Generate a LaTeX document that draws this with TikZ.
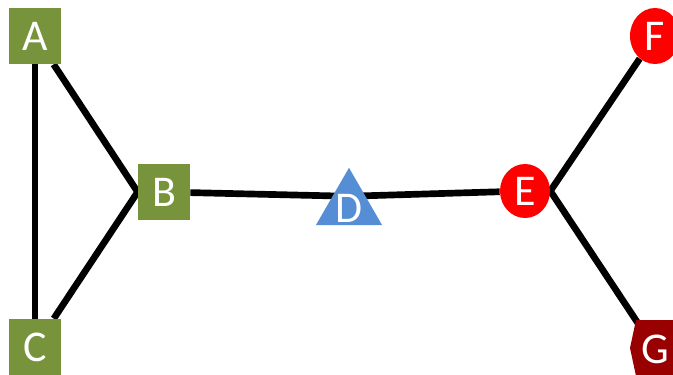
\documentclass[tikz,border=0pt]{standalone}
\usepackage{fontspec}
\setmainfont{Carlito}
\usetikzlibrary{calc}
\usetikzlibrary{shapes.geometric,backgrounds}

\definecolor{leafgreen}{HTML}{77933C}
\definecolor{triblue}{HTML}{558ED5}
\definecolor{hexred}{HTML}{990000}

\begin{document}
\begin{tikzpicture}[x=0.02cm, y=-0.02cm,
  every node/.style={text=white, font=\fontsize{25}{29}\selectfont, inner sep=0pt},
  sq/.style={rectangle, fill=leafgreen, minimum width=1.04cm, minimum height=1.12cm},
  tri/.style={regular polygon, regular polygon sides=3, fill=triblue, minimum size=1.36cm},
  circ/.style={ellipse, fill=red, minimum width=1.0cm, minimum height=1.08cm},
  edge/.style={line width=3.8pt}]

\useasboundingbox (0,0) rectangle (673,375);

\node[sq] (A) at (35,36) {A};
\node[sq] (B) at (164,192) {B};
\node[sq] (C) at (35,347) {C};

\node[tri] (D) at (349,206) {\raisebox{-0.6\height}[0pt][0pt]{D}};
\coordinate (dm) at ($(D.north)!0.5!(D.south)$);

\node[circ] (E) at (525,191) {E};
\node[circ, minimum height=1.12cm] (F) at (655,36) {F};

% hexagon behind G
\fill[hexred] (630,348) -- (636,320) -- (674,320) -- (680,348) -- (674,376) -- (636,376) -- cycle;
\node (G) at (655,349) {G};

\begin{scope}[on background layer]
\draw[edge] (A) -- (C);
\draw[edge] (A) -- (B.west) -- (C);
\draw[edge] (B) -- (dm) -- (E);
\draw[edge] (F) -- (E.east) -- (G);
\end{scope}

\end{tikzpicture}
\end{document}
